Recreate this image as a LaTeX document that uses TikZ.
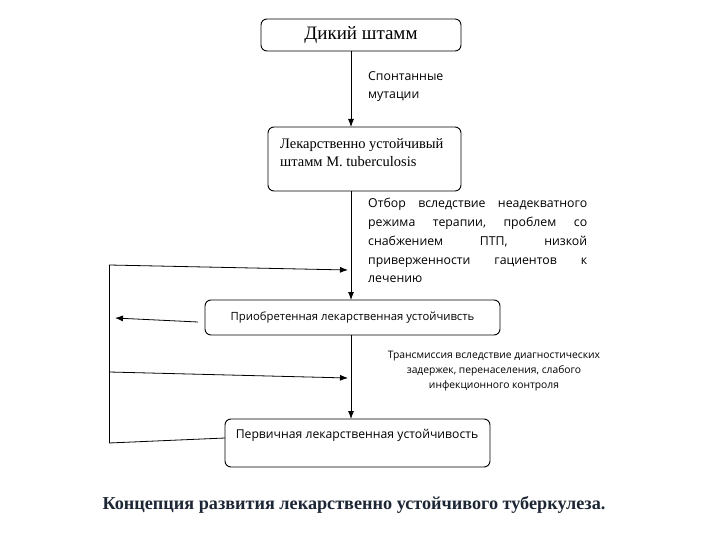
\documentclass[tikz,border=0pt]{standalone}
\usepackage{fontspec}
\setmainfont{Liberation Serif}
\newfontfamily\sansf{Open Sans}
\usetikzlibrary{arrows.meta}
\definecolor{capcol}{RGB}{28,38,52}
\begin{document}
\begin{tikzpicture}[x=1pt,y=-1pt,
  box/.style={draw=black,line width=0.9pt,rounded corners=6pt,inner sep=0pt},
  arr/.style={-{Latex[length=8pt,width=6pt]},line width=0.8pt},
  ln/.style={line width=0.8pt},
  lbl/.style={inner sep=0pt,font=\sansf\fontsize{12.3}{18.8}\selectfont}]
\useasboundingbox (0,0) rectangle (720,540);
% boxes
\node[box,minimum width=200pt,minimum height=32pt,font=\fontsize{19}{20}\selectfont] (b1) at (361,35) {Дикий штамм};
\node[box,minimum width=193pt,minimum height=64pt] (b2) at (364.5,159) {};
\node[inner sep=0pt,anchor=north west,align=left,font=\fontsize{14.5}{18}\selectfont] (t2) at (280,138) {Лекарственно устойчивый\\штамм M. tuberculosis};
\node[box,minimum width=295pt,minimum height=35pt,font=\sansf\fontsize{11.3}{14}\selectfont] (b3) at (352.5,317.5) {Приобретенная лекарственная устойчивсть};
\node[box,minimum width=265pt,minimum height=48pt] (b4) at (357.5,443) {};
\node[inner sep=0pt,font=\sansf\fontsize{12.2}{16}\selectfont] (t4) at (357,435) {Первичная лекарственная устойчивость};
% labels
\node[lbl,anchor=north west,align=left] (s1) at (368,71) {Спонтанные\\мутации};
\node[lbl,anchor=north west,text width=219pt,align=left] (s2) at (368,198) {Отбор\hfill вследствие\hfill неадекватного\\режима\hfill терапии,\hfill проблем\hfill со\\снабжением\hfill ПТП,\hfill низкой\\приверженности\hfill гациентов\hfill к\\лечению};
\node[inner sep=0pt,anchor=north,align=center,font=\sansf\fontsize{10.3}{15}\selectfont] (s3) at (494,351) {Трансмиссия вследствие диагностических\\задержек, перенаселения, слабого\\инфекционного контроля};
\node[inner sep=0pt,font=\bfseries\fontsize{18.2}{20}\selectfont,text=capcol] (cap) at (354,505) {Концепция развития лекарственно устойчивого туберкулеза.};
% main connectors
\coordinate (a1) at (351,51);
\coordinate (a2) at (351,127);
\coordinate (a3) at (351,191);
\coordinate (a4) at (351,300);
\coordinate (a5) at (351,335);
\coordinate (a6) at (351,419);
\draw[arr] (a1) -- (a2);
\draw[arr] (a3) -- (a4);
\draw[arr] (a5) -- (a6);
% feedback loop
\coordinate (L1) at (109,265);
\coordinate (L2) at (109,443);
\coordinate (L3) at (109,372);
\coordinate (E1) at (348,270);
\coordinate (E2) at (348,378);
\coordinate (E3) at (115,318);
\coordinate (S3) at (198,322);
\coordinate (S4) at (225,438);
\draw[ln] (L1) -- (L2);
\draw[arr] (L1) -- (E1);
\draw[arr] (L3) -- (E2);
\draw[arr] (S3) -- (E3);
\draw[ln] (S4) -- (L2);
\end{tikzpicture}
\end{document}
